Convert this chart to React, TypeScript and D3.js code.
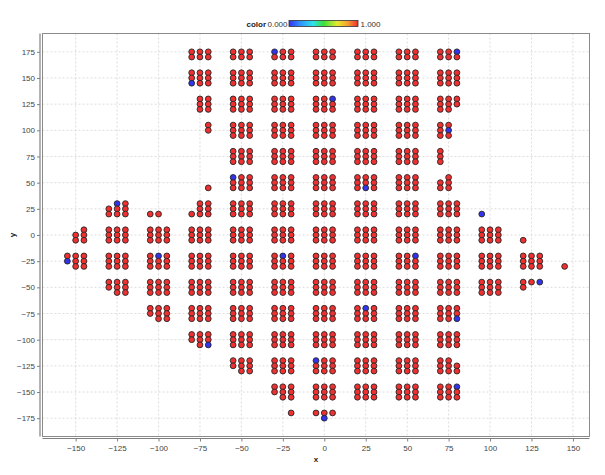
import { useRef, useEffect } from 'react'
import * as d3 from 'd3'

const WIDTH = 605
const HEIGHT = 475
const PLOT = { left: 42.5, right: 589.5, top: 33.5, bottom: 436.5 }
const FONT = "'Liberation Sans', Arial, sans-serif"

const X_DOMAIN = [-170, 160]
const Y_DOMAIN = [-192.5, 192.5]
const X_TICKS = [-150, -125, -100, -75, -50, -25, 0, 25, 50, 75, 100, 125, 150]
const Y_TICKS = [-175, -150, -125, -100, -75, -50, -25, 0, 25, 50, 75, 100, 125, 150, 175]

// every column of points: [x, list of y values]
const COLUMNS: [number, number[]][] = [
  [-155, [-20, -25]],
  [-150, [0, -5, -20, -25, -30]],
  [-145, [5, 0, -5, -20, -25, -30]],
  [-130, [25, 20, 5, 0, -5, -20, -25, -30, -45, -50]],
  [-125, [30, 25, 20, 5, 0, -5, -20, -25, -30, -45, -50, -55]],
  [-120, [30, 25, 20, 5, 0, -5, -20, -25, -30, -45, -50, -55]],
  [-105, [20, 5, 0, -5, -20, -25, -30, -45, -50, -55, -70, -75]],
  [-100, [20, 5, 0, -5, -20, -25, -30, -45, -50, -55, -70, -75, -80]],
  [-95, [5, 0, -5, -20, -25, -30, -45, -50, -55, -70, -75, -80]],
  [-80, [175, 170, 155, 150, 145, 20, 5, 0, -5, -20, -25, -30, -45, -50, -55, -70, -75, -80, -95, -100]],
  [-75, [175, 170, 155, 150, 145, 130, 125, 120, 30, 25, 20, 5, 0, -5, -20, -25, -30, -45, -50, -55, -70, -75, -80, -95, -100, -105]],
  [-70, [175, 170, 155, 150, 145, 130, 125, 120, 105, 100, 45, 30, 25, 20, 5, 0, -5, -20, -25, -30, -45, -50, -55, -70, -75, -80, -95, -100, -105]],
  [-55, [175, 170, 155, 150, 145, 130, 125, 120, 105, 100, 95, 80, 75, 70, 55, 50, 45, 30, 25, 20, 5, 0, -5, -20, -25, -30, -45, -50, -55, -70, -75, -80, -95, -100, -105, -120, -125]],
  [-50, [175, 170, 155, 150, 145, 130, 125, 120, 105, 100, 95, 80, 75, 70, 55, 50, 45, 30, 25, 20, 5, 0, -5, -20, -25, -30, -45, -50, -55, -70, -75, -80, -95, -100, -105, -120, -125, -130]],
  [-45, [175, 170, 155, 150, 145, 130, 125, 120, 105, 100, 95, 80, 75, 70, 55, 50, 45, 30, 25, 20, 5, 0, -5, -20, -25, -30, -45, -50, -55, -70, -75, -80, -95, -100, -105, -120, -125, -130]],
  [-30, [175, 170, 155, 150, 145, 130, 125, 120, 105, 100, 95, 80, 75, 70, 55, 50, 45, 30, 25, 20, 5, 0, -5, -20, -25, -30, -45, -50, -55, -70, -75, -80, -95, -100, -105, -120, -125, -130, -145, -150]],
  [-25, [175, 170, 155, 150, 145, 130, 125, 120, 105, 100, 95, 80, 75, 70, 55, 50, 45, 30, 25, 20, 5, 0, -5, -20, -25, -30, -45, -50, -55, -70, -75, -80, -95, -100, -105, -120, -125, -130, -145, -150, -155]],
  [-20, [175, 170, 155, 150, 145, 130, 125, 120, 105, 100, 95, 80, 75, 70, 55, 50, 45, 30, 25, 20, 5, 0, -5, -20, -25, -30, -45, -50, -55, -70, -75, -80, -95, -100, -105, -120, -125, -130, -145, -150, -155, -170]],
  [-5, [175, 170, 155, 150, 145, 130, 125, 120, 105, 100, 95, 80, 75, 70, 55, 50, 45, 30, 25, 20, 5, 0, -5, -20, -25, -30, -45, -50, -55, -70, -75, -80, -95, -100, -105, -120, -125, -130, -145, -150, -155, -170]],
  [0, [175, 170, 155, 150, 145, 130, 125, 120, 105, 100, 95, 80, 75, 70, 55, 50, 45, 30, 25, 20, 5, 0, -5, -20, -25, -30, -45, -50, -55, -70, -75, -80, -95, -100, -105, -120, -125, -130, -145, -150, -155, -170, -175]],
  [5, [175, 170, 155, 150, 145, 130, 125, 120, 105, 100, 95, 80, 75, 70, 55, 50, 45, 30, 25, 20, 5, 0, -5, -20, -25, -30, -45, -50, -55, -70, -75, -80, -95, -100, -105, -120, -125, -130, -145, -150, -155, -170]],
  [20, [175, 170, 155, 150, 145, 130, 125, 120, 105, 100, 95, 80, 75, 70, 55, 50, 45, 30, 25, 20, 5, 0, -5, -20, -25, -30, -45, -50, -55, -70, -75, -80, -95, -100, -105, -120, -125, -130, -145, -150, -155]],
  [25, [175, 170, 155, 150, 145, 130, 125, 120, 105, 100, 95, 80, 75, 70, 55, 50, 45, 30, 25, 20, 5, 0, -5, -20, -25, -30, -45, -50, -55, -70, -75, -80, -95, -100, -105, -120, -125, -130, -145, -150, -155]],
  [30, [175, 170, 155, 150, 145, 130, 125, 120, 105, 100, 95, 80, 75, 70, 55, 50, 45, 30, 25, 20, 5, 0, -5, -20, -25, -30, -45, -50, -55, -70, -75, -80, -95, -100, -105, -120, -125, -130, -145, -150, -155]],
  [45, [175, 170, 155, 150, 145, 130, 125, 120, 105, 100, 95, 80, 75, 70, 55, 50, 45, 30, 25, 20, 5, 0, -5, -20, -25, -30, -45, -50, -55, -70, -75, -80, -95, -100, -105, -120, -125, -130, -145, -150, -155]],
  [50, [175, 170, 155, 150, 145, 130, 125, 120, 105, 100, 95, 80, 75, 70, 55, 50, 45, 30, 25, 20, 5, 0, -5, -20, -25, -30, -45, -50, -55, -70, -75, -80, -95, -100, -105, -120, -125, -130, -145, -150, -155]],
  [55, [175, 170, 155, 150, 145, 130, 125, 120, 105, 100, 95, 80, 75, 70, 55, 50, 45, 30, 25, 20, 5, 0, -5, -20, -25, -30, -45, -50, -55, -70, -75, -80, -95, -100, -105, -120, -125, -130, -145, -150, -155]],
  [70, [175, 170, 155, 150, 145, 130, 125, 120, 105, 100, 95, 80, 75, 70, 50, 45, 30, 25, 20, 5, 0, -5, -20, -25, -30, -45, -50, -55, -70, -75, -80, -95, -100, -105, -120, -125, -130, -145, -150, -155]],
  [75, [175, 170, 155, 150, 145, 130, 125, 120, 105, 100, 95, 55, 50, 45, 30, 25, 20, 5, 0, -5, -20, -25, -30, -45, -50, -55, -70, -75, -80, -95, -100, -105, -120, -125, -130, -145, -150, -155]],
  [80, [175, 170, 155, 150, 145, 130, 125, 30, 25, 20, 5, 0, -5, -20, -25, -30, -45, -50, -55, -70, -75, -80, -95, -100, -105, -125, -130, -145, -150, -155]],
  [95, [20, 5, 0, -5, -20, -25, -30, -45, -50, -55]],
  [100, [5, 0, -5, -20, -25, -30, -45, -50, -55]],
  [105, [5, 0, -5, -20, -25, -30, -45, -50, -55]],
  [120, [-5, -20, -25, -30, -45, -50]],
  [125, [-20, -25, -30, -45]],
  [130, [-20, -25, -30, -45]],
  [145, [-30]],
]

// points whose color value is 0 (all the others are 1)
const ZERO_POINTS: [number, number][] = [
  [-155, -25], [-125, 30], [-100, -20], [-80, 145], [-70, -105],
  [-55, 55], [-30, 175], [-25, -20], [-5, -120], [0, -175],
  [5, 130], [25, 45], [25, -70], [55, -20], [75, 100],
  [80, 175], [80, -80], [80, -145], [95, 20], [130, -45],
]

const COLOR_STOPS = [0, 0.15, 0.35, 0.5, 0.7, 0.85, 1]
const COLOR_RANGE = ['#3333ee', '#2f8cff', '#2fe3e8', '#3ae03a', '#e8e830', '#f5a030', '#ee3030']

export default function App() {
  const svgRef = useRef<SVGSVGElement>(null)

  useEffect(() => {
    if (!svgRef.current) return
    const svg = d3.select(svgRef.current)
    svg.selectAll('*').remove()

    const x = d3.scaleLinear().domain(X_DOMAIN).range([PLOT.left, PLOT.right])
    const y = d3.scaleLinear().domain(Y_DOMAIN).range([PLOT.bottom, PLOT.top])
    const color = d3.scaleLinear<string>().domain(COLOR_STOPS).range(COLOR_RANGE)

    const zeroSet = new Set(ZERO_POINTS.map(p => `${p[0]},${p[1]}`))
    const points = COLUMNS.flatMap(([px, ys]) =>
      ys.map(py => ({ x: px, y: py, v: zeroSet.has(`${px},${py}`) ? 0 : 1 })))

    svg.append('rect').attr('width', WIDTH).attr('height', HEIGHT).attr('fill', '#fff')

    // legend
    const defs = svg.append('defs')
    const grad = defs.append('linearGradient').attr('id', 'cgrad')
    COLOR_STOPS.forEach((s, i) => {
      grad.append('stop').attr('offset', `${s * 100}%`).attr('stop-color', COLOR_RANGE[i])
    })
    const lg = svg.append('g').attr('font-family', FONT).attr('font-size', 8).attr('fill', '#333')
    lg.append('text').attr('x', 266).attr('y', 27).attr('text-anchor', 'end')
      .attr('font-weight', 'bold').attr('fill', '#222').text('color')
    lg.append('text').attr('x', 267.5).attr('y', 27).text('0.000')
    lg.append('rect').attr('x', 289).attr('y', 20.5).attr('width', 69).attr('height', 6)
      .attr('fill', 'url(#cgrad)').attr('stroke', '#333').attr('stroke-width', 0.8)
    lg.append('text').attr('x', 360.5).attr('y', 27).text('1.000')

    // grid
    const grid = svg.append('g').attr('stroke', '#d4d4d4').attr('stroke-width', 0.8)
      .attr('stroke-dasharray', '2,2')
    X_TICKS.forEach(t => {
      grid.append('line').attr('x1', x(t)).attr('x2', x(t))
        .attr('y1', PLOT.top).attr('y2', PLOT.bottom)
    })
    Y_TICKS.forEach(t => {
      grid.append('line').attr('x1', PLOT.left).attr('x2', PLOT.right)
        .attr('y1', y(t)).attr('y2', y(t))
    })

    // plot border
    svg.append('rect').attr('x', PLOT.left).attr('y', PLOT.top)
      .attr('width', PLOT.right - PLOT.left).attr('height', PLOT.bottom - PLOT.top)
      .attr('fill', 'none').attr('stroke', '#8a8a8a').attr('stroke-width', 1)

    // axes (offset from plot)
    const axisColor = '#808080'
    const yAxis = svg.append('g').attr('transform', `translate(${PLOT.left - 2.5},0)`)
      .call(d3.axisLeft(y).tickValues(Y_TICKS).tickSize(3).tickPadding(2))
    const xAxis = svg.append('g').attr('transform', `translate(0,${PLOT.bottom + 2})`)
      .call(d3.axisBottom(x).tickValues(X_TICKS).tickSize(3).tickPadding(4))
    ;[xAxis, yAxis].forEach(a => {
      a.attr('font-family', FONT).attr('font-size', 8)
      a.select('.domain').attr('stroke', axisColor).attr('stroke-width', 1.2)
      a.selectAll('.tick line').attr('stroke', axisColor)
      a.selectAll('.tick text').attr('fill', '#444')
    })
    yAxis.select('.domain').attr('d', `M0,${PLOT.top}V${PLOT.bottom}`)
    xAxis.select('.domain').attr('d', `M${PLOT.left},0H${PLOT.right}`)

    // axis titles
    svg.append('text').attr('x', (PLOT.left + PLOT.right) / 2).attr('y', 462)
      .attr('text-anchor', 'middle').attr('font-family', FONT).attr('font-size', 8)
      .attr('font-weight', 'bold').attr('fill', '#222').text('x')
    svg.append('text').attr('transform', `translate(15,${(PLOT.top + PLOT.bottom) / 2}) rotate(-90)`)
      .attr('text-anchor', 'middle').attr('font-family', FONT).attr('font-size', 8)
      .attr('font-weight', 'bold').attr('fill', '#222').text('y')

    // points
    svg.append('g').selectAll('circle').data(points).join('circle')
      .attr('cx', d => x(d.x)).attr('cy', d => y(d.y)).attr('r', 2.9)
      .attr('fill', d => color(d.v)).attr('stroke', '#262626').attr('stroke-width', 0.9)
  }, [])

  return (
    <svg ref={svgRef} width={WIDTH} height={HEIGHT}
      style={{ position: 'absolute', left: 0, top: 0, display: 'block' }} />
  )
}
